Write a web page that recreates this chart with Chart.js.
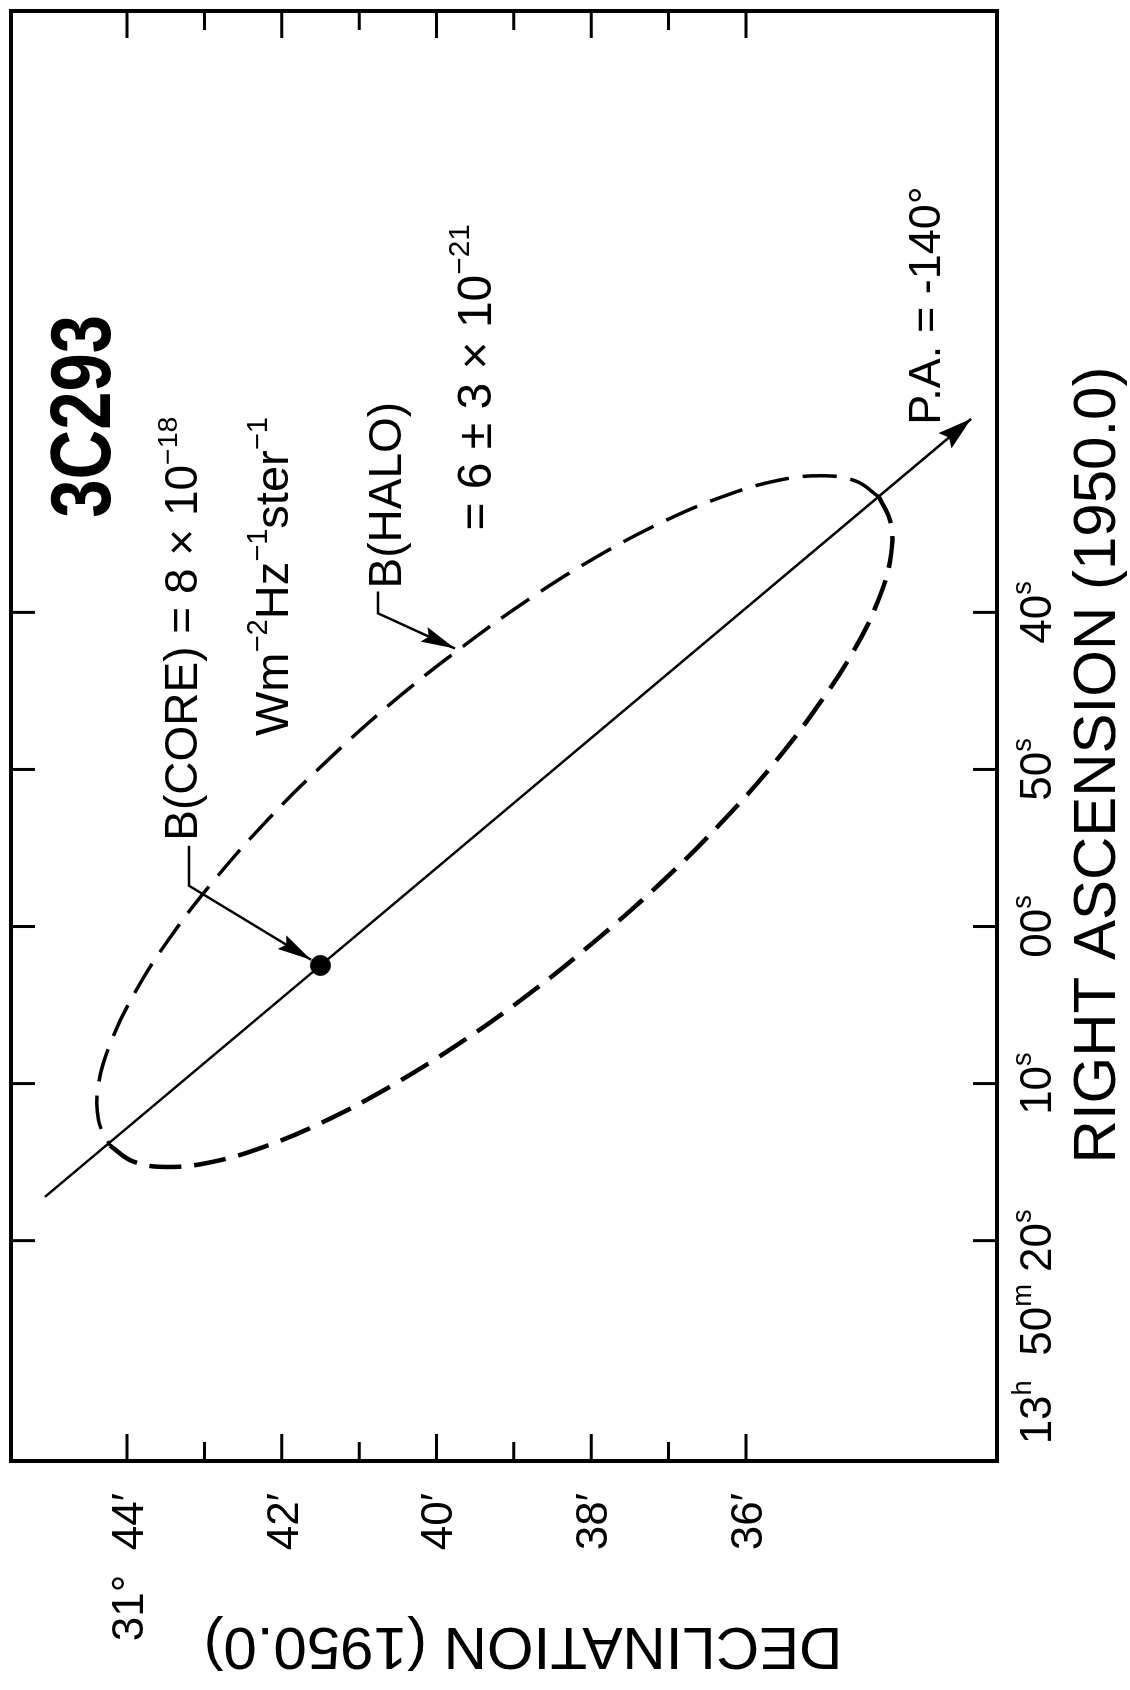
<!DOCTYPE html>
<html>
<head>
<meta charset="utf-8">
<script src="https://cdn.jsdelivr.net/npm/chart.js@4.4.1/dist/chart.umd.min.js"></script>
<style>
  html, body { margin: 0; padding: 0; background: #fff; overflow: hidden; }
  /* the map is laid out in landscape and turned a quarter turn for the page */
  #wrap { position: absolute; left: 0; top: 0; width: 1690px; height: 1130px;
          transform-origin: 0 0; transform: translateY(1690px) rotate(-90deg); }
  canvas { display: block; }
</style>
</head>
<body>
<div id="wrap"><canvas id="c" width="1690" height="1130"></canvas></div>
<script>
// Right ascension (1950.0): seconds after 13h49m00s
const raTicks = [80, 70, 60, 50, 40];
const raTickLabels = ['13^{h}  50^{m} 20^{s}', '10^{s}', '00^{s}', '50^{s}', '40^{s}'];

// Declination (1950.0): arcminutes after +31°00′
const decMajorTicks = [44, 42, 40, 38, 36];
const decTickLabels = ['31°  44′', '42′', '40′', '38′', '36′'];
const decMinorTicks = [43, 41, 39, 37];

// Halo contour, northern edge (west tip to east tip)
const haloNorthRA  = [32.65, 31.64, 31.30, 31.61, 32.59, 34.20, 36.38, 39.08, 42.21, 45.68,
                      49.38, 53.20, 57.03, 60.74, 64.22, 67.37, 70.10, 72.32, 73.95];
const haloNorthDec = [34.28, 34.58, 35.03, 35.60, 36.28, 37.06, 37.90, 38.78, 39.67, 40.56,
                      41.40, 42.18, 42.87, 43.45, 43.90, 44.21, 44.37, 44.37, 44.22];
// Halo contour, southern edge (east tip back to west tip)
const haloSouthRA  = [73.95, 74.96, 75.31, 74.99, 74.01, 72.41, 70.22, 67.52, 64.39, 60.92,
                      57.22, 53.40, 49.57, 45.87, 42.38, 39.23, 36.50, 34.29, 32.65];
const haloSouthDec = [44.22, 43.92, 43.48, 42.90, 42.22, 41.45, 40.61, 39.73, 38.83, 37.95,
                      37.10, 36.32, 35.63, 35.06, 34.60, 34.29, 34.13, 34.13, 34.28];

// Compact core
const coreRA  = [62.48];
const coreDec = [41.50];

// Source axis through the core, P.A. = -140°
const axisRA  = [77.21, 62.48, 27.68];
const axisDec = [45.06, 41.50, 33.09];

// Leader lines: text end, elbow, and arrow target
const coreLeaderRA  = [54.86, 57.40];
const coreLeaderDec = [43.20, 43.20];
const haloLeaderRA  = [38.67, 40.06, 42.30];
const haloLeaderDec = [40.755, 40.755, 39.76];

const FONT = "'Liberation Sans', Arial, sans-serif";

// In-figure lettering, anchored in sky coordinates (left end, baseline)
const notes = [
  { text: '3C293', ra: 33.97, dec: 44.226, size: 86, weight: 'bold', sx: 0.8 },
  { text: 'B(CORE) = 8 × 10^{−18}', ra: 54.54, dec: 43.09, size: 46 },
  { text: 'Wm^{−2}Hz^{−1}ster^{−1}', ra: 47.87, dec: 41.916, size: 47 },
  { text: 'B(HALO)', ra: 38.48, dec: 40.458, size: 46 },
  { text: '= 6 ± 3 × 10^{−21}', ra: 34.79, dec: 39.30, size: 48 },
  { text: 'P.A. = -140°', ra: 28.06, dec: 33.49, size: 45 }
];

function segments(s) {
  const out = [];
  const re = /\^\{([^}]*)\}/g;
  let last = 0, m;
  while ((m = re.exec(s))) {
    if (m.index > last) out.push([s.slice(last, m.index), false]);
    out.push([m[1], true]);
    last = re.lastIndex;
  }
  if (last < s.length) out.push([s.slice(last), false]);
  return out;
}

function richWidth(ctx, s, o) {
  let w = 0;
  for (const [t, sup] of segments(s)) {
    ctx.font = `${o.weight || 'normal'} ${sup ? o.size * 0.62 : o.size}px ${FONT}`;
    w += ctx.measureText(t).width;
  }
  return w * (o.sx || 1);
}

function drawRich(ctx, s, x, y, o) {
  const sx = o.sx || 1;
  const w = richWidth(ctx, s, o);
  let left = x;
  if (o.align === 'center') left = x - w / 2;
  else if (o.align === 'right') left = x - w;
  ctx.save();
  ctx.translate(left, y);
  ctx.scale(sx, 1);
  ctx.textAlign = 'left';
  ctx.textBaseline = 'alphabetic';
  let px = 0;
  for (const [t, sup] of segments(s)) {
    const fs = sup ? o.size * 0.62 : o.size;
    ctx.font = `${o.weight || 'normal'} ${fs}px ${FONT}`;
    ctx.fillText(t, px, sup ? -o.size * 0.45 : 0);
    px += ctx.measureText(t).width;
  }
  ctx.restore();
  return w;
}

function arrowHead(ctx, x0, y0, x1, y1, len, half) {
  const a = Math.atan2(y1 - y0, x1 - x0);
  ctx.save();
  ctx.translate(x1, y1);
  ctx.rotate(a);
  ctx.beginPath();
  ctx.moveTo(0, 0);
  ctx.lineTo(-len, half);
  ctx.lineTo(-len * 0.85, 0);
  ctx.lineTo(-len, -half);
  ctx.closePath();
  ctx.fill();
  ctx.restore();
}

const overlay = {
  id: 'overlay',
  afterDatasetsDraw(chart) {
    const { ctx, chartArea: a, scales: { x, y } } = chart;
    const px = v => x.getPixelForValue(v);
    const py = v => y.getPixelForValue(v);
    ctx.save();
    ctx.fillStyle = '#000';
    ctx.strokeStyle = '#000';
    ctx.lineCap = 'butt';

    // frame
    ctx.lineWidth = 4;
    ctx.strokeRect(a.left, a.top, a.right - a.left, a.bottom - a.top);

    // declination ticks, pointing inward from both sides
    ctx.lineWidth = 3;
    const decTick = (v, len) => {
      const Y = py(v);
      ctx.beginPath();
      ctx.moveTo(a.left, Y); ctx.lineTo(a.left + len, Y);
      ctx.moveTo(a.right, Y); ctx.lineTo(a.right - len, Y);
      ctx.stroke();
    };
    decMajorTicks.forEach(v => decTick(v, 27));
    decMinorTicks.forEach(v => decTick(v, 19));

    // right ascension ticks
    raTicks.forEach(v => {
      const X = px(v);
      ctx.beginPath();
      ctx.moveTo(X, a.top); ctx.lineTo(X, a.top + 24);
      ctx.moveTo(X, a.bottom); ctx.lineTo(X, a.bottom - 24);
      ctx.stroke();
    });

    // tick labels
    const tickFont = { size: 44 };
    decMajorTicks.forEach((v, i) => {
      drawRich(ctx, decTickLabels[i], a.left - 32, py(v) + 44 * 0.716 / 2, { ...tickFont, align: 'right' });
    });
    raTicks.forEach((v, i) => {
      const lab = raTickLabels[i];
      const cut = lab.lastIndexOf(' ');
      const main = cut >= 0 ? lab.slice(cut + 1) : lab;
      const X = px(v), base = a.bottom + 54;
      const w = drawRich(ctx, main, X, base, { ...tickFont, align: 'center' });
      if (cut >= 0) drawRich(ctx, lab.slice(0, cut + 1), X - w / 2, base, { ...tickFont, align: 'right' });
    });

    // axis titles
    drawRich(ctx, 'RIGHT ASCENSION (1950.0)', 925, a.bottom + 118, { size: 60, align: 'center' });
    ctx.save();
    ctx.translate(62, 523);
    ctx.rotate(-Math.PI / 2);
    drawRich(ctx, 'DECLINATION (1950.0)', 0, 0, { size: 60, align: 'center' });
    ctx.restore();

    // arrow at the end of the P.A. axis
    const n = axisRA.length;
    arrowHead(ctx, px(axisRA[n - 2]), py(axisDec[n - 2]), px(axisRA[n - 1]), py(axisDec[n - 1]), 34, 10);

    // leader to the core
    ctx.lineWidth = 2.5;
    const cx = px(coreRA[0]), cy = py(coreDec[0]);
    const ex = px(coreLeaderRA[1]), ey = py(coreLeaderDec[1]);
    const d = Math.hypot(cx - ex, cy - ey);
    const tx = cx - (cx - ex) / d * 11, ty = cy - (cy - ey) / d * 11;
    ctx.beginPath();
    ctx.moveTo(px(coreLeaderRA[0]), py(coreLeaderDec[0]));
    ctx.lineTo(ex, ey);
    ctx.lineTo(tx, ty);
    ctx.stroke();
    arrowHead(ctx, ex, ey, tx, ty, 34, 8);

    // leader to the halo
    ctx.beginPath();
    haloLeaderRA.forEach((v, i) => {
      const X = px(v), Y = py(haloLeaderDec[i]);
      if (i === 0) ctx.moveTo(X, Y); else ctx.lineTo(X, Y);
    });
    ctx.stroke();
    arrowHead(ctx, px(haloLeaderRA[1]), py(haloLeaderDec[1]), px(haloLeaderRA[2]), py(haloLeaderDec[2]), 34, 8);

    // lettering inside the map
    notes.forEach(nt => drawRich(ctx, nt.text, px(nt.ra), py(nt.dec), nt));
    ctx.restore();
  }
};

const pts = (ra, dec) => ra.map((v, i) => ({ x: v, y: dec[i] }));

new Chart(document.getElementById('c'), {
  type: 'scatter',
  data: {
    datasets: [
      {
        label: 'halo north',
        data: pts(haloNorthRA, haloNorthDec),
        showLine: true, borderColor: '#000', borderWidth: 3.5, borderDash: [34, 14],
        pointRadius: 0, tension: 0.4, fill: false
      },
      {
        label: 'halo south',
        data: pts(haloSouthRA, haloSouthDec),
        showLine: true, borderColor: '#000', borderWidth: 4.5, borderDash: [32, 13],
        pointRadius: 0, tension: 0.4, fill: false
      },
      {
        label: 'axis',
        data: pts(axisRA, axisDec),
        showLine: true, borderColor: '#000', borderWidth: 2.5,
        pointRadius: 0, tension: 0, fill: false
      },
      {
        label: 'core',
        data: pts(coreRA, coreDec),
        showLine: false, pointRadius: 10, backgroundColor: '#000', borderColor: '#000'
      }
    ]
  },
  options: {
    responsive: false,
    animation: false,
    devicePixelRatio: 1,
    events: [],
    layout: { padding: { left: 229, right: 7, top: 9, bottom: 133 } },
    plugins: { legend: { display: false }, tooltip: { enabled: false } },
    scales: {
      x: { type: 'linear', reverse: true, min: 1.71, max: 94.03, display: false },
      y: { type: 'linear', min: 32.755, max: 45.5, display: false }
    }
  },
  plugins: [overlay]
});
</script>
</body>
</html>
